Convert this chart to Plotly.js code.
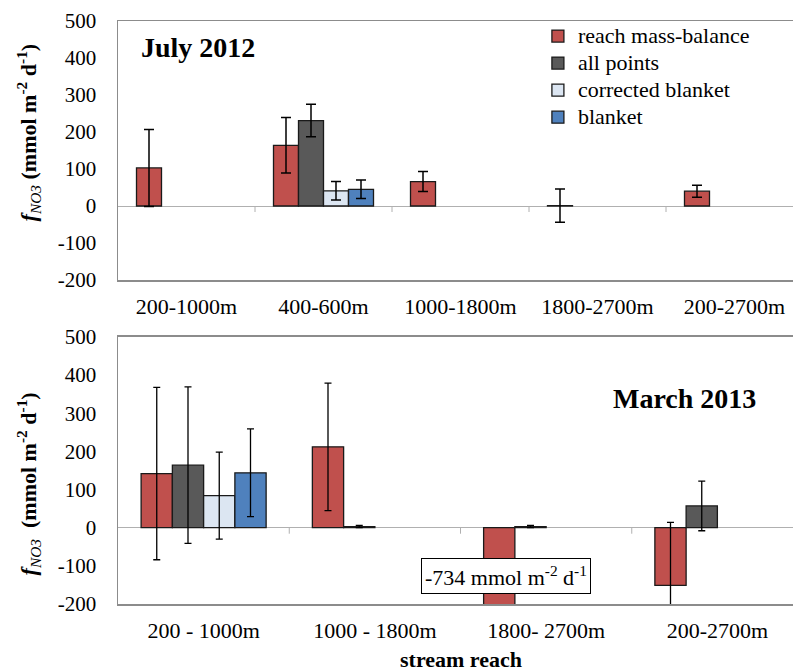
<!DOCTYPE html>
<html>
<head>
<meta charset="utf-8">
<script src="https://cdn.plot.ly/plotly-3.0.1.min.js"></script>
<style>
html, body { margin: 0; padding: 0; overflow: hidden; background: #fff; }
#chart { width: 810px; height: 671px; }
</style>
</head>
<body>
<div id="chart"></div>
<script>
// ---- Data ----
var seriesNames = ['reach mass-balance', 'all points', 'corrected blanket', 'blanket'];
var seriesColors = ['#C0504D', '#595959', '#DCE6F2', '#4F81BD'];

// July 2012 panel
var catsJuly = ['200-1000m', '400-600m', '1000-1800m', '1800-2700m', '200-2700m'];
var julyReach = [103, 164, 66, 1, 40];
var julyReachErr = [104, 75, 27, 45, 16];
var julyAll = [null, 231, null, null, null];
var julyAllErr = [null, 44, null, null, null];
var julyCorr = [null, 41, null, null, null];
var julyCorrErr = [null, 25, null, null, null];
var julyBlanket = [null, 45, null, null, null];
var julyBlanketErr = [null, 25, null, null, null];

// March 2013 panel
var catsMarch = ['200 - 1000m', '1000 - 1800m', '1800- 2700m', '200-2700m'];
var marchReach = [142, 212, -734, -151];
var marchReachErr = [226, 167, null, 165];
var marchAll = [164, 3, 3, 57];
var marchAllErr = [205, 3, 3, 65];
var marchCorr = [84, null, null, null];
var marchCorrErr = [114, null, null, null];
var marchBlanket = [144, null, null, null];
var marchBlanketErr = [115, null, null, null];

var yTickVals = [-200, -100, 0, 100, 200, 300, 400, 500];
var yTickText = ['-200', '-100', '0', '100', '200', '300', '400', '500'];

var FONT = 'Liberation Serif';

var julyVals = [julyReach, julyAll, julyCorr, julyBlanket];
var julyErrs = [julyReachErr, julyAllErr, julyCorrErr, julyBlanketErr];
var marchVals = [marchReach, marchAll, marchCorr, marchBlanket];
var marchErrs = [marchReachErr, marchAllErr, marchCorrErr, marchBlanketErr];

var traces = [];
for (var i = 0; i < 4; i++) {
  traces.push({
    type: 'bar', name: '<span style="font-size:22px">' + seriesNames[i] + '</span>',
    x: catsJuly, y: julyVals[i],
    xaxis: 'x', yaxis: 'y', legendgroup: 's' + i, showlegend: true,
    marker: { color: seriesColors[i], line: { color: '#1a1a1a', width: 1.3 } },
    error_y: { type: 'data', array: julyErrs[i], visible: true, color: '#000', thickness: 1.5, width: 5 },
    hoverinfo: 'x+y'
  });
}
for (var j = 0; j < 4; j++) {
  traces.push({
    type: 'bar', name: seriesNames[j], x: catsMarch, y: marchVals[j],
    xaxis: 'x2', yaxis: 'y2', legendgroup: 's' + j, showlegend: false,
    marker: { color: seriesColors[j], line: { color: '#1a1a1a', width: 1.3 } },
    error_y: { type: 'data', array: marchErrs[j], visible: true, color: '#000', thickness: 1.3, width: 3.5 },
    hoverinfo: 'x+y'
  });
}

function boundaryTicks(cats, xref, yref) {
  var s = [];
  for (var k = 0; k < cats.length - 1; k++) {
    s.push({
      type: 'line', xref: xref, yref: yref, x0: k + 0.5, x1: k + 0.5,
      ysizemode: 'pixel', yanchor: 0, y0: 0, y1: -6,
      line: { color: '#B0B0B0', width: 1 }
    });
  }
  return s;
}

function xAxis(domain, anchor) {
  return {
    domain: domain, anchor: anchor,
    showgrid: false, zeroline: false, ticks: 'outside', ticklen: 6,
    tickcolor: 'rgba(0,0,0,0)', tickfont: { family: FONT, size: 22, color: '#000' },
    showline: true, linecolor: '#8C8C8C', linewidth: 1.5, mirror: true
  };
}
function yAxis(domain, anchor) {
  return {
    domain: domain, anchor: anchor,
    range: [-200, 500], tickmode: 'array', tickvals: yTickVals, ticktext: yTickText, showgrid: false,
    zeroline: true, zerolinecolor: '#B0B0B0', zerolinewidth: 1,
    ticks: 'outside', ticklen: 16, tickcolor: 'rgba(0,0,0,0)',
    tickfont: { family: FONT, size: 21, color: '#000' },
    showline: true, linecolor: '#8C8C8C', linewidth: 1.5, mirror: true
  };
}

var yTitle = '<b><i>f</i></b><sub><i>NO3</i></sub><b> (mmol m<sup>-2</sup> d<sup>-1</sup>)</b>';
var yTitle2 = '<b><i>f</i></b><sub><i>NO3</i></sub><b>  (mmol m<sup>-2</sup> d<sup>-1</sup>)</b>';

var layout = {
  width: 810, height: 671,
  margin: { l: 118, r: 7, t: 21, b: 67 },
  paper_bgcolor: '#fff', plot_bgcolor: '#fff',
  barmode: 'group', bargap: 0.27, bargroupgap: 0,
  font: { family: FONT, color: '#000', size: 22 },
  xaxis: xAxis([0, 1], 'y'),
  yaxis: yAxis([0.5557, 1], 'x'),
  xaxis2: xAxis([0, 1], 'y2'),
  yaxis2: yAxis([0, 0.458], 'x2'),
  legend: {
    x: 0.613, y: 1.006, xanchor: 'left', yanchor: 'top', itemwidth: 30,
    bgcolor: 'rgba(0,0,0,0)', borderwidth: 0, tracegroupgap: 0,
    font: { family: FONT, size: 18.5, color: '#000' }
  },
  shapes: boundaryTicks(catsJuly, 'x', 'y').concat(boundaryTicks(catsMarch, 'x2', 'y2')),
  annotations: [
    { xref: 'x domain', yref: 'y domain', x: 0.0307, y: 0.896, xanchor: 'left', yanchor: 'middle',
      text: '<b>July 2012</b>', showarrow: false, font: { family: FONT, size: 28, color: '#000' } },
    { xref: 'x2 domain', yref: 'y2 domain', x: 0.827, y: 0.768, xanchor: 'center', yanchor: 'middle',
      text: '<b>March 2013</b>', showarrow: false, font: { family: FONT, size: 28, color: '#000' } },
    { xref: 'x2 domain', yref: 'y2 domain', x: 0.566, y: 0.105, xanchor: 'center', yanchor: 'middle',
      text: '-734 mmol m<sup>-2</sup> d<sup>-1</sup>', showarrow: false,
      bgcolor: '#fff', bordercolor: '#000', borderwidth: 1, borderpad: 3,
      font: { family: FONT, size: 22, color: '#000' } },
    { xref: 'paper', yref: 'y domain', x: -0.131, y: 0.571, xanchor: 'center', yanchor: 'middle',
      textangle: -90, text: yTitle, showarrow: false, font: { family: FONT, size: 22, color: '#000' } },
    { xref: 'paper', yref: 'y2 domain', x: -0.131, y: 0.449, xanchor: 'center', yanchor: 'middle',
      textangle: -90, text: yTitle2, showarrow: false, font: { family: FONT, size: 22, color: '#000' } },
    { xref: 'x2 domain', yref: 'y2 domain', x: 0.5, y: -0.208, xanchor: 'center', yanchor: 'middle',
      text: '<b>stream reach</b>', showarrow: false, font: { family: FONT, size: 22, color: '#000' } }
  ]
};

Plotly.newPlot('chart', traces, layout, { displayModeBar: false, staticPlot: true });
</script>
</body>
</html>
